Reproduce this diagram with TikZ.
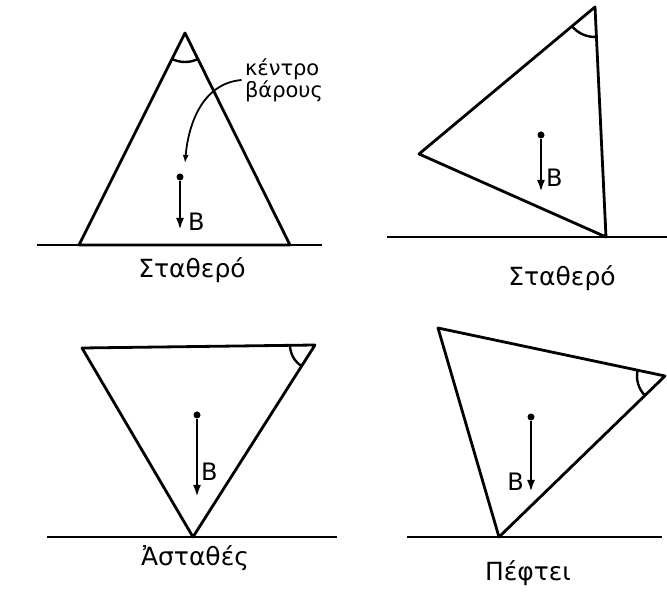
\documentclass[tikz,border=0pt]{standalone}
\usepackage{fontspec}
\setmainfont{DejaVu Sans}
\usetikzlibrary{arrows.meta, angles, positioning}

\begin{document}
\begin{tikzpicture}[x=1pt, y=1pt,
  body/.style={draw, line width=2.8pt, line join=round},
  ground/.style={draw, line width=2.6pt},
  angmark/.style={draw, line width=2.4pt},
  weight/.style={draw, -{Latex[length=12pt, width=8pt]}, line width=2.8pt},
  pointer/.style={draw, -{Latex[length=8pt, width=6pt]}, line width=1.8pt},
  cgdot/.style={circle, fill, inner sep=0pt, minimum size=7pt},
  caption/.style={font=\fontsize{25}{28}\selectfont},
  wlabel/.style={font=\fontsize{24}{26}\selectfont, inner sep=1pt}]
  \useasboundingbox (0,0) rectangle (667,592);

  % upright triangle
  \coordinate (apexA) at (185,559);
  \coordinate (leftA) at (79,347);
  \coordinate (rightA) at (290,347);
  \draw [body] (apexA) -- (leftA) -- (rightA) -- cycle;
  \pic [angmark, angle radius=29pt] {angle = leftA--apexA--rightA};
  \draw [ground] (37,347) -- (322,347);
  \node [cgdot] (cgA) at (180,415) {};
  \coordinate (tipA) at (180,362);
  \draw [weight] (cgA) -- (tipA);
  \node [wlabel, anchor=west] (bA) at (187,370) {B};
  \node [font=\fontsize{21}{21}\selectfont, align=left] (cgtext) at (284,512) {κέντρο\\βάρους};
  \coordinate (cgpt) at (185,429);
  \draw [pointer] (cgtext.west) to[out=185, in=85] (cgpt);
  \node [caption] (stableA) at (192,322) {Σταθερό};

  % tilted triangle, still stable
  \coordinate (topB) at (595,585);
  \coordinate (leftB) at (419,438);
  \coordinate (footB) at (606,355);
  \draw [body] (topB) -- (leftB) -- (footB) -- cycle;
  \pic [angmark, angle radius=30pt] {angle = leftB--topB--footB};
  \draw [ground] (387,355) -- (667,355);
  \node [cgdot] (cgB) at (541,457) {};
  \coordinate (tipB) at (541,400);
  \draw [weight] (cgB) -- (tipB);
  \node [wlabel, anchor=west] (bB) at (545,414) {B};
  \node [caption] (stableB) at (562,314) {Σταθερό};

  % inverted triangle
  \coordinate (tlC) at (82,244);
  \coordinate (trC) at (315,247);
  \coordinate (footC) at (193,55);
  \draw [body] (tlC) -- (trC) -- (footC) -- cycle;
  \pic [angmark, angle radius=25pt] {angle = tlC--trC--footC};
  \draw [ground] (47,55) -- (337,55);
  \node [cgdot] (cgC) at (197,177) {};
  \coordinate (tipC) at (197,95);
  \draw [weight] (cgC) -- (tipC);
  \node [wlabel, anchor=west] (bC) at (200,120) {B};
  \node [caption] (unstableC) at (195,34) {Ἀσταθές};

  % triangle tipping over
  \coordinate (tlD) at (438,264);
  \coordinate (rightD) at (665,216);
  \coordinate (footD) at (499,55);
  \draw [body] (tlD) -- (rightD) -- (footD) -- cycle;
  \pic [angmark, angle radius=28pt] {angle = tlD--rightD--footD};
  \draw [ground] (407,55) -- (662,55);
  \node [cgdot] (cgD) at (531,175) {};
  \coordinate (tipD) at (531,100);
  \draw [weight] (cgD) -- (tipD);
  \node [wlabel, anchor=east] (bD) at (525,110) {B};
  \node [caption] (fallsD) at (528,19) {Πέφτει};
\end{tikzpicture}
\end{document}
